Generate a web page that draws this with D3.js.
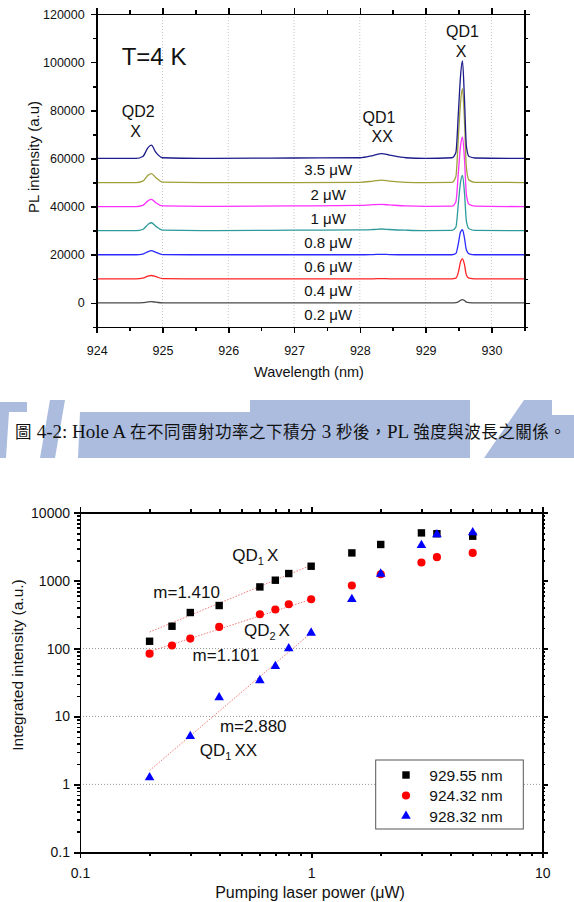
<!DOCTYPE html>
<html><head><meta charset="utf-8">
<style>
body{margin:0;background:#fff;}
svg{display:block;font-family:'Liberation Sans',Arial,sans-serif;}
.axis path,.axis line{stroke:#000;stroke-width:1.6;shape-rendering:crispEdges;}
.axis text{font-family:'Liberation Sans',Arial,sans-serif;fill:#111;}
.lbl{fill:#111;}
</style>
<script src="https://d3js.org/d3.v7.min.js"></script>
</head><body>
<svg id="fig" width="574" height="902"></svg>
<script>
// ---------- top panel: PL spectra, stacked ----------
var wl=[924.0,924.6,924.7,924.78,924.83,924.9,925.0,925.6,927.0,928.0,928.2,928.33,928.45,928.7,929.0,929.4,929.46,929.5,929.53,929.56,929.59,929.62,929.66,929.75,930.5];
var powers=['0.2 \u03bcW','0.4 \u03bcW','0.6 \u03bcW','0.8 \u03bcW','1 \u03bcW','2 \u03bcW','3.5 \u03bcW'];
var offsets=[0,10000,20000,30000,40000,50000,60000];
var pl02=[0,0,100,400,500,300,0,0,0,0,0,0,0,0,0,0,100,500,1100,1400,1000,300,100,0,0];
var pl04=[0,0,300,1100,1400,900,100,0,0,0,0,100,0,0,0,0,300,3000,7000,8300,6000,1500,300,0,0];
var pl06=[0,0,300,1300,1700,1000,100,0,0,0,100,200,100,0,0,0,500,5000,9500,10400,7000,2000,400,0,0];
var pl08=[0,0,500,2600,3300,1800,200,0,200,300,500,700,500,200,0,100,1500,12000,20000,23000,16000,4000,800,100,0];
var pl1=[0,0,500,2400,3000,1600,300,100,300,500,800,900,700,300,100,200,2000,15000,25000,28900,20000,5000,1000,200,0];
var pl2=[0,0,600,3000,3700,2000,200,0,0,100,600,1000,600,100,0,100,2500,20000,33000,39000,26000,6000,1000,100,0];
var pl35=[0,0,800,4500,5500,2500,300,0,200,300,1200,2000,1400,300,0,300,2500,20000,34000,40500,25000,5000,800,200,0];
var spectra=[pl02,pl04,pl06,pl08,pl1,pl2,pl35];
var yTicksTop=[0,20000,40000,60000,80000,100000,120000];
var yMinorTop=[-10000,10000,30000,50000,70000,90000,110000];
var xTicksTop=[924,925,926,927,928,929,930];
var xMinorTop=[924.5,925.5,926.5,927.5,928.5,929.5,930.5];

// ---------- bottom panel: integrated intensity vs power ----------
var pw=[0.2,0.25,0.3,0.4,0.6,0.7,0.8,1,1.5,2,3,3.5,5];
var qd1x=[128,213,339,430,808,1014,1271,1629,2558,3404,5043,4900,4508];
var qd2x=[84,111,140,208,320,375,449,532,847,1242,1847,2213,2558];
var pwXX=[0.2,0.3,0.4,0.6,0.7,0.8,1,1.5,2,3,3.5,5];
var qd1xx=[1.26,5.1,19,34,55,100,170,532,1256,3320,4775,5108];
var fitPw=[0.2,1];
var fit1=[175,1686];
var fit2=[90,530];
var fit3=[1.6,170];
var seriesNames=['929.55 nm','924.32 nm','928.32 nm'];
var xTicksBot=[0.1,1,10];
var yTicksBot=[0.1,1,10,100,1000,10000];
var gridBot=[1,10,100];

var specColors=['#4a4a4a','#ff2424','#2a2aff','#2e9a9a','#ff30ff','#a0a03a','#1c1c8a'];
var svg=d3.select('#fig');

// watermark behind the caption
var wm=svg.append('g').attr('fill','#abbcdf');
[[[0,402],[27,402],[27,412],[9,412],[6,458],[0,458]],
 [[50,400],[65,400],[55,458],[40,458]],
 [[80,412],[250,412],[250,400],[470,400],[470,458],[78,458]],
 [[524,400],[552,400],[552,415],[574,415],[574,458],[484,458]]
].forEach(function(p){wm.append('polygon').attr('points',p.join(' '));});
wm.append('rect').attr('x',150).attr('y',404).attr('width',90).attr('height',5).attr('fill','#fff');

// ===== top chart =====
var xT=d3.scaleLinear().domain([924,930.5]).range([96.7,524.3]);
var yT=d3.scaleLinear().domain([-10000,120000]).range([327,14]);

var gT=svg.append('g');
gT.selectAll('line.vg').data(xTicksTop.slice(1)).enter().append('line')
  .attr('x1',function(d){return xT(d);}).attr('x2',function(d){return xT(d);})
  .attr('y1',yT(-10000)).attr('y2',yT(120000))
  .attr('stroke','#b8b8b8').attr('stroke-width',0.8).attr('stroke-dasharray','1,2');

var lineT=d3.line().curve(d3.curveMonotoneX)
  .x(function(d){return xT(d[0]);}).y(function(d){return yT(d[1]);});
spectra.forEach(function(s,i){
  var pts=wl.map(function(w,j){return [w,offsets[i]+s[j]];});
  gT.append('path').datum(pts).attr('d',lineT).attr('fill','none')
    .attr('stroke',specColors[i]).attr('stroke-width',1.3);
});

function axisT(ax,tr,vals,size,fmt){
  var g=gT.append('g').attr('class','axis').attr('transform',tr)
    .call(ax.tickValues(vals).tickSize(size).tickSizeOuter(0).tickPadding(size===6?6:0).tickFormat(fmt));
  g.selectAll('text').style('font-size','12.5px');
  return g;
}
axisT(d3.axisLeft(yT),'translate(96.7,0)',yTicksTop,6,d3.format('d'));
axisT(d3.axisLeft(yT),'translate(96.7,0)',yMinorTop,4,'').select('.domain').remove();
axisT(d3.axisRight(yT),'translate(524.3,0)',yTicksTop,6,'');
axisT(d3.axisRight(yT),'translate(524.3,0)',yMinorTop,4,'').select('.domain').remove();
axisT(d3.axisBottom(xT),'translate(0,327)',xTicksTop,6,d3.format('d')).selectAll('text').attr('dy','1.25em');
axisT(d3.axisBottom(xT),'translate(0,327)',xMinorTop,4,'').select('.domain').remove();
axisT(d3.axisTop(xT),'translate(0,14)',xTicksTop,6,'');
axisT(d3.axisTop(xT),'translate(0,14)',xMinorTop,4,'').select('.domain').remove();

gT.selectAll('text.pw').data(powers).enter().append('text').attr('class','lbl')
  .attr('x',xT(927.52)).attr('y',function(d,i){return yT(offsets[i])+17;})
  .attr('text-anchor','middle').style('font-size','15px').text(function(d){return d;});

var annT=[['T=4 K',924.38,98800,'start',24],['QD2',924.63,77300,'middle',16],['X',924.59,69000,'middle',16],
  ['QD1',928.29,74600,'middle',16],['XX',928.34,66700,'middle',16],['QD1',929.56,110500,'middle',16],['X',929.54,102300,'middle',16]];
annT.forEach(function(a){
  gT.append('text').attr('class','lbl').attr('x',xT(a[1])).attr('y',yT(a[2]))
    .attr('text-anchor',a[3]).style('font-size',a[4]+'px').text(a[0]);
});
gT.append('text').attr('class','lbl').attr('transform','translate(39,157) rotate(-90)')
  .attr('text-anchor','middle').style('font-size','15px').text('PL intensity (a.u)');
gT.append('text').attr('class','lbl').attr('x',309).attr('y',377)
  .attr('text-anchor','middle').style('font-size','14.5px').text('Wavelength (nm)');

// caption: latin runs in serif, CJK runs slightly smaller
var capParts=[['\u5716 ',1],['4-2: Hole A ',0],['\u5728\u4e0d\u540c\u96f7\u5c04\u529f\u7387\u4e4b\u4e0b\u7a4d\u5206',1],[' 3 ',0],
  ['\u79d2\u5f8c\uff0c',1],['PL ',0],['\u5f37\u5ea6\u8207\u6ce2\u9577\u4e4b\u95dc\u4fc2\u3002',1]];
var cap=svg.append('text').attr('x',15).attr('y',438).attr('fill','#111')
  .style('font-family',"'Liberation Serif','Noto Sans CJK TC',serif");
capParts.forEach(function(p){
  cap.append('tspan').style('font-size',p[1]?'16.5px':'19px')
    .style('letter-spacing',p[1]?'0.5px':'0px').text(p[0]);
});

// ===== bottom chart =====
var xB=d3.scaleLog().domain([0.1,10]).range([80,542.3]);
var yB=d3.scaleLog().domain([0.1,10000]).range([852.3,512.7]);
var gB=svg.append('g');

gB.selectAll('line.hg').data(gridBot).enter().append('line')
  .attr('x1',80).attr('x2',542.3)
  .attr('y1',function(d){return yB(d);}).attr('y2',function(d){return yB(d);})
  .attr('stroke','#8a8a8a').attr('stroke-width',0.9).attr('stroke-dasharray','1,2');

var minorX=[],minorY=[];
[0.1,1].forEach(function(dec){for(var k=2;k<10;k++)minorX.push(dec*k);});
[0.1,1,10,100,1000].forEach(function(dec){for(var k=2;k<10;k++)minorY.push(dec*k);});

function axisB(ax,tr,vals,size,fmt){
  var g=gB.append('g').attr('class','axis').attr('transform',tr)
    .call(ax.tickValues(vals).tickSize(size).tickSizeOuter(0).tickPadding(4).tickFormat(fmt));
  g.selectAll('path,line').style('stroke-width','1.8');
  g.selectAll('text').style('font-size','14px');
  return g;
}
var fmtB=function(d){return String(d);};
axisB(d3.axisLeft(yB),'translate(80,0)',yTicksBot,6,fmtB);
axisB(d3.axisLeft(yB),'translate(80,0)',minorY,3,'').select('.domain').remove();
axisB(d3.axisRight(yB),'translate(542.3,0)',yTicksBot,6,'');
axisB(d3.axisRight(yB),'translate(542.3,0)',minorY,3,'').select('.domain').remove();
axisB(d3.axisBottom(xB),'translate(0,852.3)',xTicksBot,6,fmtB).selectAll('text').attr('dy','1.1em');
axisB(d3.axisBottom(xB),'translate(0,852.3)',minorX,4,'').select('.domain').remove();
axisB(d3.axisTop(xB),'translate(0,512.7)',xTicksBot,6,'');
axisB(d3.axisTop(xB),'translate(0,512.7)',minorX,4,'').select('.domain').remove();

var fitLine=d3.line().x(function(d){return xB(d[0]);}).y(function(d){return yB(d[1]);});
[fit1,fit2,fit3].forEach(function(f){
  gB.append('path').datum(fitPw.map(function(p,i){return [p,f[i]];})).attr('d',fitLine)
    .attr('fill','none').attr('stroke','#f06a6a').attr('stroke-width',0.9).attr('stroke-dasharray','1.5,1.5');
});

var symSq=d3.symbol().type(d3.symbolSquare).size(55);
var symCi=d3.symbol().type(d3.symbolCircle).size(52);
var symTr=d3.symbol().type(d3.symbolTriangle).size(40);
var sets=[[pw,qd1x,symSq,'#000'],[pw,qd2x,symCi,'#ff0000'],[pwXX,qd1xx,symTr,'#0000ff']];
sets.forEach(function(s){
  gB.selectAll(null).data(s[0]).enter().append('path').attr('d',s[2])
    .attr('transform',function(d,i){return 'translate('+xB(d)+','+yB(s[1][i])+')';})
    .attr('fill',s[3]);
});

// legend
var lg=gB.append('g').attr('transform','translate(375.7,760)');
lg.append('rect').attr('width',147.6).attr('height',69).attr('fill','#fff').attr('stroke','#555').attr('stroke-width',1);
sets.forEach(function(s,i){
  lg.append('path').attr('d',s[2]).attr('transform','translate(30.3,'+(15+i*20.5)+')').attr('fill',s[3]);
  lg.append('text').attr('class','lbl').attr('x',53.6).attr('y',15+i*20.5+5.5)
    .style('font-size','15.5px').text(seriesNames[i]);
});

// annotations
function subText(txt,sub,rest,px,vy){
  var t=gB.append('text').attr('class','lbl').attr('x',xB(px)).attr('y',yB(vy)).style('font-size','17px');
  t.append('tspan').text(txt);
  if(sub){t.append('tspan').attr('dy',4).style('font-size','11px').text(sub);
          t.append('tspan').attr('dy',-4).attr('dx',3).text(rest);}
}
subText('QD','1','X',0.456,1945);
subText('m=1.410','','',0.2076,555);
subText('QD','2','X',0.512,153);
subText('m=1.101','','',0.307,65.6);
subText('m=2.880','','',0.403,5.96);
subText('QD','1','XX',0.330,2.62);

gB.append('text').attr('class','lbl').attr('transform','translate(22.5,665) rotate(-90)')
  .attr('text-anchor','middle').style('font-size','15.5px').text('Integrated intensity (a.u.)');
gB.append('text').attr('class','lbl').attr('x',310).attr('y',898)
  .attr('text-anchor','middle').style('font-size','16px').text('Pumping laser power (\u03bcW)');
</script>
</body></html>
